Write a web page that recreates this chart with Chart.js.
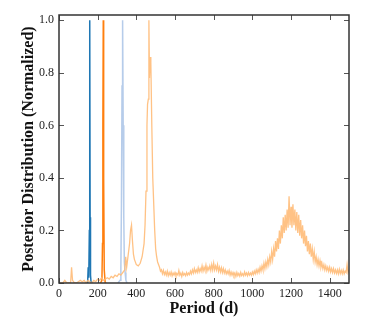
<!DOCTYPE html>
<html><head><meta charset="utf-8">
<script src="https://cdn.jsdelivr.net/npm/chart.js@4"></script>
<style>html,body{margin:0;padding:0;background:#fff;}#wrap{width:374px;height:326px;}</style>
</head><body><div id="wrap"><canvas id="c" width="374" height="326"></canvas></div>
<script>
// Period axis ticks
const xTicks = [0, 200, 400, 600, 800, 1000, 1200, 1400];
const yTicks = [0.0, 0.2, 0.4, 0.6, 0.8, 1.0];

// Series 1 (dark blue) spike
const p1Periods = [140, 148, 151, 154, 157, 159, 161, 163, 166, 175];
const p1Values  = [0, 0, 0.06, 0.02, 0.2, 1.0, 0.25, 0.03, 0, 0];

// Series 2 (dark orange) spike
const p2Periods = [215, 222, 225, 227, 229, 231, 234, 239, 245];
const p2Values  = [0, 0.01, 0.15, 0.6, 1.0, 0.4, 0.05, 0, 0];

// Series 3 (light blue) spike
const p3Periods = [305, 316, 320, 323, 326, 329, 332, 335, 338, 342, 346, 352];
const p3Values  = [0, 0.01, 0.05, 0.3, 0.75, 1.0, 0.6, 0.25, 0.08, 0.04, 0.01, 0];

// Series 4 (light orange) broad distribution
const p4Periods = [
  0,10,20,30,40,50,60,65,70,80,90,100,110,120,130,140,150,160,170,180,190,
  200,210,220,230,240,250,260,270,280,290,300,310,320,330,340,345,350,355,360,365,370,375,380,385,390,
  400,410,420,430,440,445,450,455,458,462,465,468,472,475,480,485,490,495,500,505,510,
  520,525,530,535,540,545,550,555,560,565,570,575,580,585,590,595,600,605,610,615,620,625,630,635,640,645,650,655,660,665,670,675,680,685,690,695,
  700,705,710,715,720,725,730,735,740,745,750,755,760,765,770,775,780,785,790,795,800,805,810,815,820,825,830,835,840,845,850,855,860,865,870,875,880,885,890,895,
  900,905,910,915,920,925,930,935,940,945,950,955,960,965,970,975,980,985,990,995,
  1000,1005,1010,1015,1020,1025,1030,1035,1040,1045,1050,1055,1060,1065,1070,1075,1080,1085,1090,1095,
  1100,1105,1110,1115,1120,1125,1130,1135,1140,1145,1150,1155,1160,1165,1170,1175,1180,1185,1190,1195,
  1200,1205,1210,1215,1220,1225,1230,1235,1240,1245,1250,1255,1260,1265,1270,1275,1280,1285,1290,1295,
  1300,1305,1310,1315,1320,1325,1330,1335,1340,1345,1350,1355,1360,1365,1370,1375,1380,1385,1390,1395,
  1400,1405,1410,1415,1420,1425,1430,1435,1440,1445,1450,1455,1460,1465,1470,1475,1480,1485,1490,1495,1500];
const p4Values  = [
  0,0,0,0.01,0,0,0,0.06,0.01,0,0,0.005,0.01,0.005,0.01,0,0.01,0.005,0,0.01,0.005,
  0.015,0.01,0.02,0.01,0.015,0.02,0.015,0.025,0.02,0.03,0.025,0.035,0.03,0.04,0.05,0.1,0.06,0.09,0.12,0.15,0.2,0.22,0.16,0.11,0.09,
  0.07,0.065,0.075,0.1,0.15,0.22,0.35,0.6,0.68,0.7,1.0,0.78,0.86,0.84,0.6,0.4,0.3,0.2,0.13,0.1,0.08,
  0.06,0.045,0.05,0.035,0.048,0.032,0.042,0.03,0.045,0.028,0.04,0.03,0.042,0.027,0.038,0.03,0.04,0.028,0.036,0.03,0.048,0.03,0.038,0.025,0.04,0.03,0.036,0.028,0.04,0.03,0.038,0.032,0.045,0.035,0.05,0.038,
  0.055,0.04,0.05,0.04,0.058,0.042,0.055,0.045,0.065,0.045,0.06,0.048,0.068,0.045,0.06,0.05,0.065,0.048,0.07,0.05,0.075,0.05,0.065,0.05,0.07,0.045,0.06,0.042,0.058,0.04,0.055,0.038,0.05,0.035,0.045,0.035,0.048,0.03,0.042,0.03,
  0.04,0.028,0.038,0.025,0.04,0.028,0.036,0.026,0.04,0.028,0.035,0.027,0.042,0.03,0.038,0.028,0.04,0.03,0.038,0.03,
  0.042,0.032,0.045,0.035,0.05,0.038,0.052,0.04,0.06,0.045,0.065,0.05,0.075,0.055,0.08,0.062,0.09,0.07,0.1,0.08,
  0.12,0.09,0.13,0.1,0.16,0.12,0.17,0.13,0.2,0.15,0.22,0.17,0.25,0.19,0.26,0.2,0.28,0.21,0.33,0.22,
  0.29,0.21,0.3,0.22,0.28,0.2,0.27,0.19,0.26,0.18,0.24,0.17,0.22,0.15,0.2,0.14,0.18,0.12,0.16,0.11,
  0.15,0.1,0.13,0.09,0.12,0.08,0.1,0.07,0.09,0.065,0.085,0.06,0.075,0.055,0.07,0.05,0.065,0.048,0.06,0.045,
  0.06,0.042,0.055,0.04,0.055,0.038,0.05,0.036,0.05,0.035,0.052,0.036,0.048,0.035,0.05,0.035,0.045,0.04,0.07,0.04,0.05];

const pts = (xs, ys) => xs.map((x, i) => ({x: x, y: ys[i]}));

const SERIF = '"Liberation Serif", "DejaVu Serif", serif';

const framePlugin = {
  id: 'frame',
  afterDatasetsDraw(chart) {
    const {ctx, chartArea: a, scales} = chart;
    ctx.save();
    ctx.strokeStyle = '#555';
    ctx.lineWidth = 1;
    const L = 5;
    xTicks.forEach(v => {
      const px = Math.round(scales.x.getPixelForValue(v)) + 0.5;
      ctx.beginPath();
      ctx.moveTo(px, a.bottom); ctx.lineTo(px, a.bottom - L);
      ctx.moveTo(px, a.top); ctx.lineTo(px, a.top + L);
      ctx.stroke();
    });
    yTicks.forEach(v => {
      const py = Math.round(scales.y.getPixelForValue(v)) + 0.5;
      ctx.beginPath();
      ctx.moveTo(a.left, py); ctx.lineTo(a.left + L, py);
      ctx.moveTo(a.right, py); ctx.lineTo(a.right - L, py);
      ctx.stroke();
    });
    ctx.strokeStyle = '#333';
    ctx.lineWidth = 1.5;
    ctx.strokeRect(a.left, a.top, a.right - a.left, a.bottom - a.top);
    ctx.restore();
  }
};

const ds = (data, color, width, order) => ({
  data: data, borderColor: color, borderWidth: width, pointRadius: 0,
  fill: false, tension: 0, showLine: true, order: order
});

new Chart(document.getElementById('c'), {
  type: 'scatter',
  data: {
    datasets: [
      ds(pts(p1Periods, p1Values), '#1f77b4', 1.5, 4),
      ds(pts(p2Periods, p2Values), '#ff7f0e', 1.5, 3),
      ds(pts(p3Periods, p3Values), 'rgba(174,199,232,0.9)', 1.5, 2),
      ds(pts(p4Periods, p4Values), 'rgba(255,187,120,0.9)', 1.3, 1)
    ]
  },
  options: {
    responsive: false, animation: false,
    layout: {padding: {top: 15, right: 25, left: 0, bottom: 0}},
    plugins: {legend: {display: false}, tooltip: {enabled: false}},
    scales: {
      x: {
        type: 'linear', min: 0, max: 1500,
        afterBuildTicks: s => { s.ticks = xTicks.map(v => ({value: v})); },
        afterFit: s => { s.height = 43; },
        grid: {display: false, drawTicks: false},
        border: {display: false},
        ticks: {color: '#222', font: {family: SERIF, size: 12}, padding: 4, maxRotation: 0,
                callback: v => String(v)},
        title: {display: true, text: 'Period (d)', color: '#111',
                font: {family: SERIF, size: 16, weight: 'bold'}, padding: {top: 0, bottom: 8}}
      },
      y: {
        type: 'linear', min: 0, max: 1.02,
        afterBuildTicks: s => { s.ticks = yTicks.map(v => ({value: v})); },
        afterFit: s => { s.width = 59; },
        grid: {display: false, drawTicks: false},
        border: {display: false},
        ticks: {color: '#222', font: {family: SERIF, size: 12}, padding: 5,
                callback: v => Number(v).toFixed(1)},
        title: {display: true, text: 'Posterior Distribution (Normalized)', color: '#111',
                font: {family: SERIF, size: 16, weight: 'bold'}, padding: {top: 19, bottom: 0}}
      }
    }
  },
  plugins: [framePlugin]
});
</script></body></html>
